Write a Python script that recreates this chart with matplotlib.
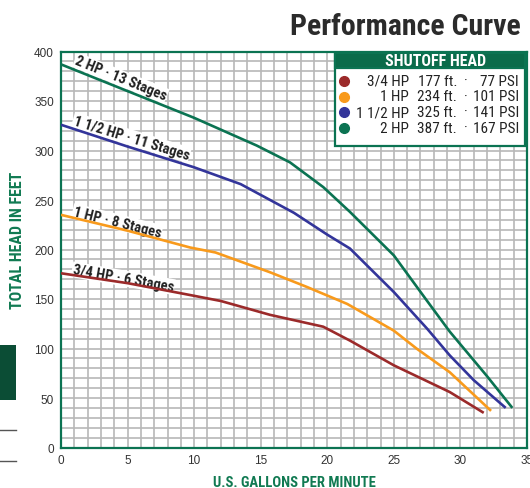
import numpy as np
import matplotlib
matplotlib.use("Agg")
import matplotlib.pyplot as plt
from matplotlib.patches import Rectangle
from matplotlib.lines import Line2D

# pump curves, flow in US gpm vs total head in ft
gpm_34 = [0, 5, 9.7, 12, 15.7, 19.7, 21.7, 25, 29.2, 31.75]
head_34 = [176, 166, 154, 148, 134, 122, 108, 83, 56, 35]

gpm_1 = [0, 5, 9.7, 11.6, 15.7, 18.5, 21.5, 25, 26.7, 29.2, 32.3]
head_1 = [235, 219, 202, 197, 177, 162, 145, 118, 100, 76, 37]

gpm_112 = [0, 5, 10, 13.5, 17.5, 20, 21.7, 25, 27.5, 29.2, 31, 33.4]
head_112 = [326, 304, 283, 266, 237, 215, 201, 157, 120, 93, 68, 40]

gpm_2 = [0, 5, 10, 14.7, 17.2, 19.7, 21.7, 25, 27.5, 29.2, 32, 33.9]
head_2 = [387, 360, 333, 305, 288, 263, 238, 194, 148, 117, 72, 40]

curve_labels = ["3/4 HP · 6 Stages", "1 HP · 8 Stages", "1 1/2 HP · 11 Stages", "2 HP · 13 Stages"]
hp_names = ["3/4 HP", "1 HP", "1 1/2 HP", "2 HP"]
shutoff_ft = [177, 234, 325, 387]
shutoff_psi = [77, 101, 141, 167]
line_colors = ["#9b2a2a", "#f89a1c", "#33359a", "#0b7352"]

NARROW = ["Roboto Condensed", "Liberation Sans Narrow", "DejaVu Sans"]

W, H = 530, 489
fig = plt.figure(figsize=(W / 100, H / 100), dpi=100)

def fx(px):
    return px / W

def fy(py):
    return 1 - py / H

ax = fig.add_axes([fx(61), fy(448.5), fx(527) - fx(61), fy(52.5) - fy(448.5)])

ax.set_xlim(0, 35)
ax.set_ylim(0, 400)
ax.set_xticks(np.arange(0, 36, 1), minor=True)
ax.set_yticks(np.arange(0, 401, 10), minor=True)
ax.set_xticks(np.arange(0, 36, 5))
ax.set_yticks(np.arange(0, 401, 50))
ax.grid(which="both", color="#b8b8b8", linewidth=1.2, zorder=0)
ax.set_axisbelow(True)
ax.tick_params(which="both", length=0, labelsize=8.5, labelcolor="#333333", pad=5)
for lab in ax.get_xticklabels() + ax.get_yticklabels():
    lab.set_family("Liberation Sans")
for s in ax.spines.values():
    s.set_color("#0b7352")
    s.set_linewidth(1.6)

all_gpm = [gpm_34, gpm_1, gpm_112, gpm_2]
all_head = [head_34, head_1, head_112, head_2]
for g, h, c in zip(all_gpm, all_head, line_colors):
    ax.plot(g, h, color=c, linewidth=1.9, zorder=3, solid_capstyle="butt")

# curve labels sitting on the lines
label_pos = [(0.8, 173, -10), (0.8, 232, -14), (0.8, 324, -17), (0.9, 385, -22)]
for txt, (x0, y0, rot) in zip(curve_labels, label_pos):
    ax.text(x0, y0, txt, rotation=rot, rotation_mode="anchor", ha="left", va="bottom",
            fontsize=10.5, fontweight="bold", family=NARROW, color="#222222",
            bbox=dict(facecolor="white", edgecolor="none", pad=0.6), zorder=2.5)

ax.set_xlabel("U.S. GALLONS PER MINUTE", fontsize=10.5, fontweight="bold",
              family=NARROW, color="#117a52", labelpad=6)
ax.set_ylabel("TOTAL HEAD IN FEET", fontsize=11.5, fontweight="bold",
              family=NARROW, color="#117a52")
ax.yaxis.set_label_coords((25 - 61) / 466, (448.5 - 240) / 396)

fig.text(fx(521), fy(27), "Performance Curve", ha="right", va="center", fontsize=21.5,
         fontweight="bold", family=NARROW, color="#2b2b2b")

# shutoff head box
L, R, T, B = 335, 525, 53.5, 146.5
fig.add_artist(Rectangle((fx(L), fy(B)), fx(R) - fx(L), fy(T) - fy(B), transform=fig.transFigure,
                         facecolor="white", edgecolor="#0b7352", linewidth=1.6, zorder=5))
fig.add_artist(Rectangle((fx(L), fy(68.5)), fx(R) - fx(L), fy(T) - fy(68.5), transform=fig.transFigure,
                         facecolor="#0a6b4a", edgecolor="#0b7352", linewidth=1.6, zorder=5))
fig.text(fx(436), fy(61.5), "SHUTOFF HEAD", ha="center", va="center", fontsize=11.5, fontweight="bold",
         family=NARROW, color="white", zorder=6)
row_y = [81.5, 97.5, 113, 129]
for i in range(4):
    yy = fy(row_y[i])
    fig.add_artist(Line2D([fx(344)], [yy], marker="o", markersize=7, color=line_colors[i],
                          transform=fig.transFigure, zorder=6))
    kw = dict(va="center", fontsize=11, family=NARROW, color="#222222", zorder=6)
    fig.text(fx(409), yy, hp_names[i], ha="right", **kw)
    fig.text(fx(457), yy, f"{shutoff_ft[i]} ft.", ha="right", **kw)
    fig.text(fx(466), yy, "·", ha="center", **kw)
    fig.text(fx(519), yy, f"{shutoff_psi[i]} PSI", ha="right", **kw)

# bits of neighbouring page content at the left edge
fig.add_artist(Rectangle((0, fy(401)), fx(15.5), fy(346) - fy(401), transform=fig.transFigure,
                         facecolor="#0b4d35", edgecolor="none", zorder=5))
for yl in [431, 462]:
    fig.add_artist(Line2D([0, fx(15.5)], [fy(yl), fy(yl)], color="#555555", linewidth=1,
                          transform=fig.transFigure))

fig.savefig("out.png", dpi=100)
